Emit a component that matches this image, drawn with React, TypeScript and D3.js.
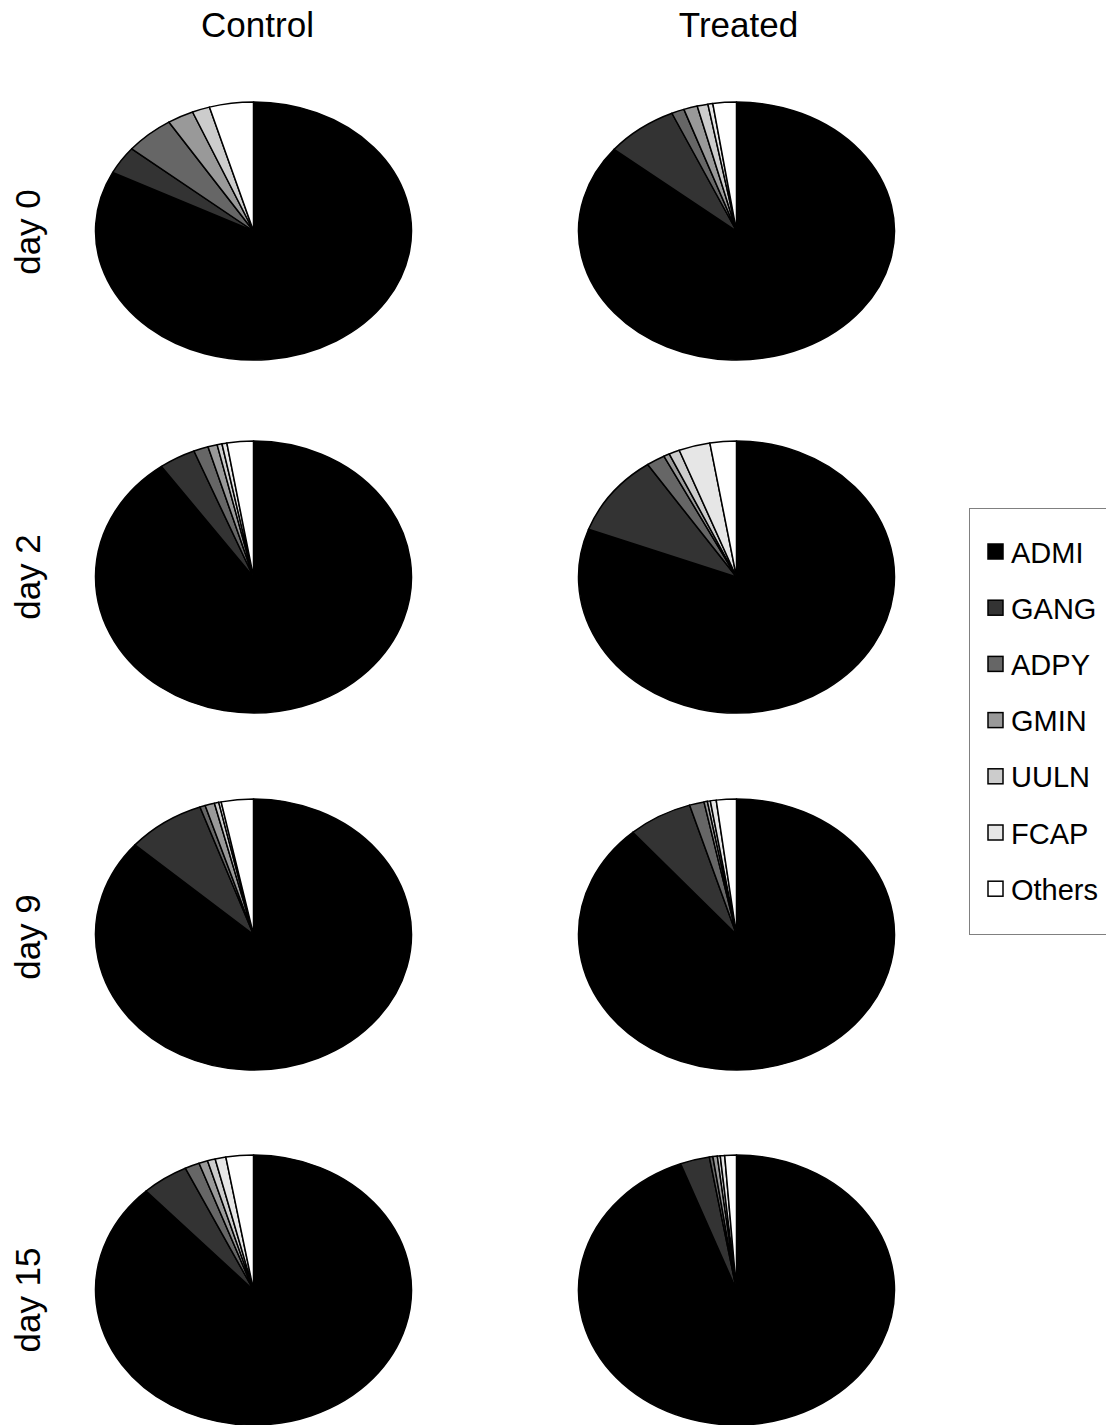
import React from "react";
import * as d3 from "d3";

const categories = ["ADMI", "GANG", "ADPY", "GMIN", "UULN", "FCAP", "Others"];
const sliceColors = ["#000000", "#333333", "#666666", "#999999", "#cccccc", "#e6e6e6", "#ffffff"];
const groups = ["Control", "Treated"];
const days = ["day 0", "day 2", "day 9", "day 15"];

// percentages per category, in category order
const controlDay0 = [82.5, 3.5, 5.0, 2.7, 1.8, 0, 4.5];
const controlDay2 = [90.1, 3.75, 1.5, 0.95, 0.5, 0.5, 2.7];
const controlDay9 = [86.5, 8.0, 0.55, 0.97, 0.45, 0.25, 3.28];
const controlDay15 = [88.1, 4.8, 1.5, 0.9, 0.8, 1.1, 2.8];
const treatedDay0 = [85.9, 7.4, 1.3, 1.4, 1.1, 0.5, 2.4];
const treatedDay2 = [80.7, 9.8, 1.9, 0.6, 1.1, 3.2, 2.7];
const treatedDay9 = [88.6, 6.6, 1.5, 0.35, 0.3, 0.6, 2.05];
const treatedDay15 = [94.25, 3.0, 0.36, 0.45, 0.3, 0.45, 1.19];

const panels = [
  [controlDay0, treatedDay0],
  [controlDay2, treatedDay2],
  [controlDay9, treatedDay9],
  [controlDay15, treatedDay15],
];

const colX = [253.5, 736.5];
const rowY = [231, 577, 934.5, 1290];
const rowRy = [129, 136, 135.5, 135];
const RX = 158;
const labelY = [232, 577, 937, 1300];

const R = 100;
const pieGen = d3
  .pie<number>()
  .sort(null)
  .value((d) => d)
  .startAngle(0)
  .endAngle(2 * Math.PI);
const arcGen = d3.arc<d3.PieArcDatum<number>>().innerRadius(0).outerRadius(R);

const FONT = "'Liberation Sans', Arial, Helvetica, sans-serif";

export default function App() {
  return (
    <svg
      width={1106}
      height={1425}
      style={{ position: "absolute", left: 0, top: 0, background: "#fff" }}
      fontFamily={FONT}
    >
      <rect x={0} y={0} width={1106} height={1425} fill="#fff" />
      {groups.map((g, i) => (
        <text key={g} x={colX[i] + (i === 0 ? 4 : 2)} y={37} textAnchor="middle" fontSize={35} fill="#000">
          {g}
        </text>
      ))}
      {days.map((d, j) => (
        <text
          key={d}
          transform={`translate(40,${labelY[j]}) rotate(-90)`}
          textAnchor="middle"
          fontSize={35}
          fill="#000"
        >
          {d}
        </text>
      ))}
      {panels.map((row, j) =>
        row.map((vals, i) => {
          const arcs = pieGen(vals).filter((a) => a.value > 0);
          return (
            <g
              key={`${j}-${i}`}
              transform={`translate(${colX[i]},${rowY[j]}) scale(${RX / R},${rowRy[j] / R})`}
            >
              {arcs.map((a) => (
                <path
                  key={a.index}
                  d={arcGen(a) || ""}
                  fill={sliceColors[a.index]}
                  stroke="#000"
                  strokeWidth={1.5}
                  vectorEffect="non-scaling-stroke"
                  strokeLinejoin="round"
                />
              ))}
            </g>
          );
        })
      )}
      <g>
        <rect x={969.5} y={508.5} width={145} height={426} fill="#fff" stroke="#808080" strokeWidth={1} />
        {categories.map((c, k) => {
          const y = 552 + k * 56.2;
          return (
            <g key={c}>
              <rect x={988} y={y - 8} width={15} height={15} fill={sliceColors[k]} stroke="#000" strokeWidth={1.5} />
              <text x={1011} y={y + 10.5} fontSize={29} fill="#000">
                {c}
              </text>
            </g>
          );
        })}
      </g>
    </svg>
  );
}
